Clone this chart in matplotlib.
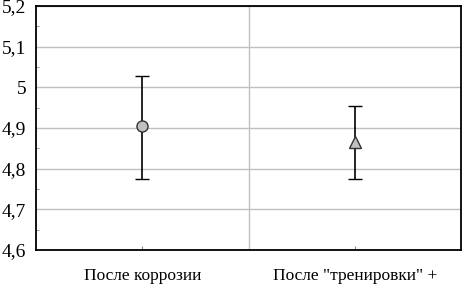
import matplotlib
matplotlib.use("Agg")
import matplotlib.pyplot as plt
from matplotlib.ticker import MultipleLocator, FixedLocator, FuncFormatter

# данные
labels = ['После коррозии', 'После "тренировки" +']
means = [4.905, 4.865]
upper = [5.027, 4.955]
lower = [4.775, 4.775]
markers = ['o', '^']

plt.rcParams['font.family'] = ['Liberation Serif', 'DejaVu Serif']

fig = plt.figure(figsize=(4.63, 2.87), dpi=100)
ax = fig.add_axes([36 / 463, 1 - 250 / 287, 425 / 463, 244 / 287])

xs = [0.5, 1.5]
for x, m, hi, lo, mk in zip(xs, means, upper, lower, markers):
    ax.errorbar(x, m, yerr=[[m - lo], [hi - m]], fmt=mk, color='black',
                ecolor='black', elinewidth=1.2, capsize=5, capthick=1.2,
                markerfacecolor='#c0c0c0', markeredgecolor='#333333',
                markersize=8 if mk == 'o' else 9, markeredgewidth=1, zorder=3)

ax.set_xlim(0, 2)
ax.set_ylim(4.6, 5.2)
ax.yaxis.set_major_locator(MultipleLocator(0.1))
ax.yaxis.set_minor_locator(MultipleLocator(0.05))
ax.yaxis.set_major_formatter(FuncFormatter(
    lambda v, p: ('%g' % round(v, 2)).replace('.', ',')))
ax.set_xticks(xs)
ax.set_xticklabels(labels)
ax.xaxis.set_minor_locator(FixedLocator([1.0]))

ax.grid(True, axis='y', which='major', color='#c0c0c0', lw=1)
ax.grid(True, axis='x', which='minor', color='#c0c0c0', lw=1)
ax.set_axisbelow(True)

ax.tick_params(axis='y', which='major', length=0, labelsize=14, pad=7)
ax.tick_params(axis='y', which='minor', length=2, direction='in', color='#888888')
ax.tick_params(axis='x', which='major', length=3, direction='in', color='#888888',
               labelsize=12.5, pad=13)
ax.tick_params(axis='x', which='minor', length=0)

for s in ax.spines.values():
    s.set_linewidth(1.3)
    s.set_color('black')

fig.savefig('out.png', dpi=100)
